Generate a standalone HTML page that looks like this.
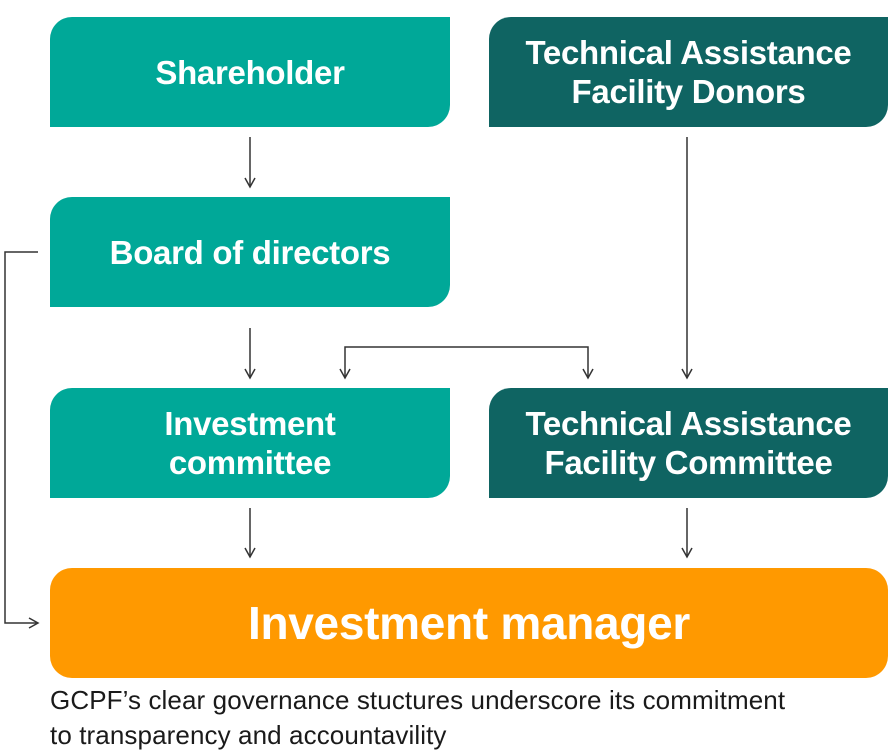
<!DOCTYPE html>
<html><head><style>
body{margin:0;width:893px;height:754px;background:#fff;position:relative;overflow:hidden;font-family:"Liberation Sans",sans-serif}
.b{position:absolute;display:flex;align-items:center;justify-content:center;text-align:center;color:#fff;font-weight:bold;font-size:33px;line-height:39px;letter-spacing:-0.3px;border-radius:22px 0 22px 0}
.t{background:#00a898}.d{background:#0f6462}
.cap{position:absolute;left:50px;top:683px;font-size:26px;line-height:35px;color:#1a1a1a;letter-spacing:0.1px;white-space:nowrap}
</style></head><body>
<div class="b t" style="left:50px;top:17px;width:400px;height:110px">Shareholder</div>
<div class="b d" style="left:489px;top:17px;width:399px;height:110px">Technical Assistance<br>Facility Donors</div>
<div class="b t" style="left:50px;top:197px;width:400px;height:110px">Board of directors</div>
<div class="b t" style="left:50px;top:388px;width:400px;height:110px">Investment<br>committee</div>
<div class="b d" style="left:489px;top:388px;width:399px;height:110px">Technical Assistance<br>Facility Committee</div>
<div class="b" style="left:50px;top:568px;width:838px;height:110px;background:#ff9900;border-radius:22px;font-size:46px">Investment manager</div>
<svg width="893" height="754" style="position:absolute;left:0;top:0" fill="none" stroke="#333" stroke-width="1.5">
<path d="M250 137V186M687 137V378M250 328V378M345 378V347H588V378M250 508V557M687 508V557M38 252H5V623H37"/>
<path d="M245 178L250 187L255 178M682 369L687 378L692 369M245 369L250 378L255 369M340 369L345 378L350 369M583 369L588 378L593 369M245 548L250 557L255 548M682 548L687 557L692 548M29 618L38 623L29 628"/>
</svg>
<div class="cap">GCPF’s clear governance stuctures underscore its commitment<br>to transparency and accountavility</div>
</body></html>
